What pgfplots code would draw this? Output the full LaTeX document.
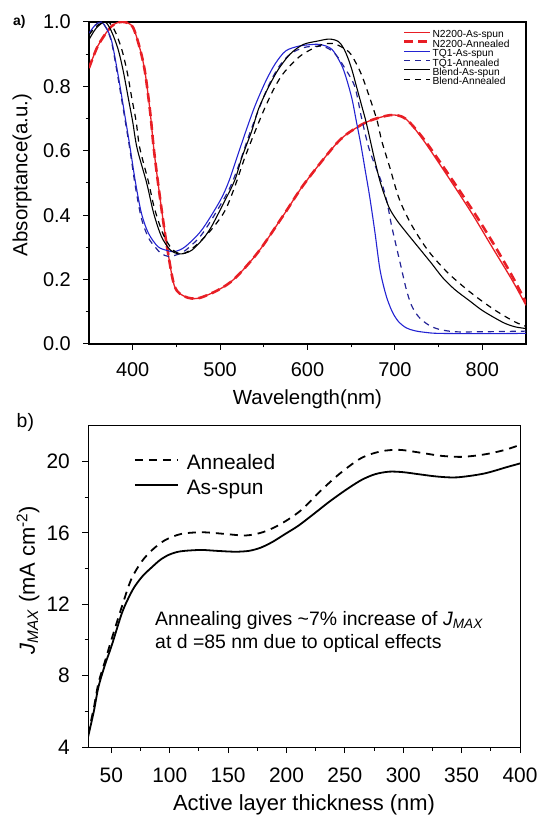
\documentclass[border=0pt]{standalone}
\usepackage{pgfplots}
\pgfplotsset{compat=1.18}
\usepackage{fontspec}
\setmainfont{Liberation Sans}
\definecolor{cred}{RGB}{232,30,37}
\definecolor{cblue}{RGB}{35,35,210}
\definecolor{cnavy}{RGB}{35,35,150}
\pgfplotsset{/pgf/number format/assume math mode=true}
\begin{document}
\begin{tikzpicture}
\useasboundingbox (0bp,0bp) rectangle (540bp,816bp);
\begin{axis}[
  at={(89bp,472bp)}, anchor=south west, scale only axis, width=437bp, height=322bp,
  xmin=350, xmax=850, ymin=0, ymax=1,
  xtick={400,500,600,700,800}, ytick={0,0.2,0.4,0.6,0.8,1.0},
  minor x tick num=1, minor y tick num=1,
  tick align=outside, tick pos=left,
  major tick length=6bp, minor tick length=3.5bp,
  axis line style={line width=1.3bp}, every tick/.style={line width=1bp, black},
  ticklabel style={font=\fontsize{20}{24}\selectfont, inner sep=0pt},
  yticklabel style={/pgf/number format/fixed, /pgf/number format/fixed zerofill, /pgf/number format/precision=1},
  xticklabel style={anchor=base, yshift=-26.7bp},
  yticklabel style={anchor=east, xshift=-12bp},
  xlabel={Wavelength(nm)}, ylabel={Absorptance(a.u.)},
  every axis x label/.style={at={(axis description cs:0.5,-0.188)}, anchor=base, font=\fontsize{20.5}{24}\selectfont},
  every axis y label/.style={at={(axis description cs:-0.153,0.525)}, anchor=center, rotate=90, font=\fontsize{20.5}{24}\selectfont},
  legend style={at={(rel axis cs:0.718,0.977)}, anchor=north west, draw=none, fill=none,
    font=\fontsize{10.3}{10}\selectfont, inner sep=0pt, row sep=0pt,
    nodes={inner sep=0pt, text height=8.3bp, text depth=1.1bp},
    /tikz/every odd column/.append style={column sep=1bp}},
  legend cell align=left,
  legend image code/.code={\draw[#1] (0bp,2bp) -- (26bp,2bp);},
]
\addplot[cred, line width=1.3bp, smooth] coordinates {
(350,0.857) (360,0.925) (372,0.975) (380,0.995) (390,1.0) (400,0.985) (408,0.92) (414,0.846)
(420,0.72) (424,0.61) (429,0.50) (435,0.38) (440,0.29) (448,0.178) (460,0.147) (475,0.142)
(498,0.168) (517,0.204) (544,0.287) (574,0.406) (597,0.50) (635,0.628) (658,0.675) (674,0.696)
(696,0.711) (712,0.70) (731,0.639) (757,0.535) (788,0.406) (811,0.302) (834,0.199) (850,0.12)};
\addlegendentry{N2200-As-spun}
\addplot[cred, line width=2.6bp, dash pattern=on 9bp off 5bp, smooth] coordinates {
(350,0.857) (360,0.925) (372,0.975) (380,0.995) (390,1.0) (400,0.985) (408,0.92) (414,0.846)
(420,0.72) (424,0.61) (429,0.50) (435,0.38) (440,0.29) (448,0.178) (460,0.147) (475,0.142)
(498,0.168) (517,0.204) (544,0.287) (574,0.406) (597,0.50) (635,0.628) (658,0.675) (674,0.696)
(696,0.711) (712,0.70) (732,0.64) (758,0.54) (789,0.415) (812,0.315) (835,0.207) (850,0.128)};
\addlegendentry{N2200-Annealed}
\addplot[cblue, line width=1.1bp, smooth] coordinates {
(350,0.965) (357,0.99) (364,1.0) (370,0.98) (376,0.94) (383,0.84) (391,0.71) (397,0.61)
(403,0.505) (410,0.406) (418,0.344) (429,0.302) (440,0.29) (448,0.287) (460,0.302) (479,0.354)
(500,0.445) (510,0.505) (520,0.585) (530,0.665) (540,0.74) (552,0.815) (563,0.87) (575,0.91)
(590,0.925) (605,0.93) (615,0.93) (628,0.915) (639,0.866) (645,0.82) (651,0.76) (656,0.69)
(661,0.62) (666,0.54) (671,0.46) (677,0.35) (683,0.23) (690,0.15) (697,0.10) (704,0.07)
(713,0.05) (723,0.041) (735,0.036) (750,0.033) (800,0.032) (850,0.033)};
\addlegendentry{TQ1-As-spun}
\addplot[cnavy, line width=1.2bp, dash pattern=on 6bp off 5bp, smooth] coordinates {
(350,0.96) (357,0.99) (364,1.0) (370,0.98) (376,0.935) (383,0.83) (391,0.70) (397,0.60)
(403,0.49) (410,0.39) (418,0.33) (426,0.30) (433,0.28) (441,0.272) (448,0.275) (460,0.29)
(479,0.34) (500,0.43) (512,0.49) (522,0.56) (532,0.64) (543,0.72) (555,0.80) (567,0.86)
(580,0.90) (595,0.92) (610,0.925) (622,0.92) (632,0.90) (642,0.86) (654,0.80) (662,0.70)
(670,0.61) (678,0.55) (685,0.50) (691,0.44) (696,0.37) (701,0.31) (707,0.24) (713,0.17)
(719,0.12) (727,0.085) (738,0.06) (750,0.046) (769,0.038) (800,0.038) (850,0.04)};
\addlegendentry{TQ1-Annealed}
\addplot[black, line width=1.1bp, smooth] coordinates {
(350,0.945) (358,0.98) (368,1.0) (375,0.975) (383,0.918) (389,0.85) (395,0.763) (400,0.69)
(405,0.608) (416,0.50) (424,0.406) (433,0.333) (443,0.292) (452,0.28) (460,0.282) (468,0.292)
(480,0.325) (490,0.364) (506,0.448) (517,0.51) (525,0.58) (536,0.66) (544,0.73) (554,0.79)
(566,0.85) (580,0.90) (595,0.93) (612,0.941) (625,0.947) (635,0.94) (641,0.92) (646,0.89)
(651,0.85) (656,0.80) (662,0.74) (667,0.69) (672,0.63) (677,0.57) (683,0.505) (689,0.455)
(694,0.42) (702,0.385) (712,0.35) (727,0.30) (742,0.25) (755,0.205) (769,0.168) (785,0.135)
(799,0.106) (813,0.083) (826,0.064) (838,0.053) (850,0.048)};
\addlegendentry{Blend-As-spun}
\addplot[black, line width=1.2bp, dash pattern=on 6bp off 5bp, smooth] coordinates {
(350,0.96) (360,0.99) (372,1.0) (380,0.97) (388,0.91) (394,0.84) (399,0.763) (404,0.69)
(408,0.61) (418,0.504) (425,0.42) (435,0.34) (445,0.295) (455,0.28) (465,0.29) (479,0.323)
(493,0.365) (506,0.416) (517,0.49) (528,0.577) (540,0.66) (551,0.732) (563,0.80) (574,0.846)
(593,0.897) (616,0.929) (631,0.932) (647,0.908) (655,0.875) (662,0.835) (668,0.79) (674,0.742)
(680,0.69) (685,0.63) (694,0.55) (705,0.45) (719,0.37) (738,0.29) (761,0.22) (788,0.157)
(814,0.106) (837,0.069) (850,0.055)};
\addlegendentry{Blend-Annealed}
\end{axis}

\begin{axis}[
  at={(88bp,69bp)}, anchor=south west, scale only axis, width=432bp, height=321bp,
  xmin=30, xmax=400, ymin=4, ymax=22,
  xtick={50,100,...,400}, ytick={4,8,12,16,20},
  minor x tick num=1, minor y tick num=1,
  tick align=outside, tick pos=left,
  major tick length=6bp, minor tick length=3.5bp,
  axis line style={line width=1bp}, every tick/.style={line width=1bp, black},
  ticklabel style={font=\fontsize{21}{24}\selectfont, inner sep=0pt},
  xticklabel style={anchor=base, yshift=-29bp},
  yticklabel style={anchor=east, xshift=-12bp},
  xlabel={Active layer thickness (nm)},
  ylabel={\textit{J}\textsubscript{\textit{MAX}} (mA cm\textsuperscript{-2})},
  every axis x label/.style={at={(axis description cs:0.5,-0.199)}, anchor=base, font=\fontsize{22}{26}\selectfont},
  every axis y label/.style={at={(axis description cs:-0.139,0.52)}, anchor=center, rotate=90, font=\fontsize{22}{26}\selectfont},
  legend style={at={(rel axis cs:0.106,0.92)}, anchor=north west, draw=none, fill=none,
    font=\fontsize{21}{21}\selectfont, inner sep=0pt, row sep=0pt,
    nodes={inner sep=0pt, text height=17.5bp, text depth=7.5bp},
    /tikz/every odd column/.append style={column sep=8bp}},
  legend cell align=left,
  legend image code/.code={\draw[#1] (0bp,4bp) -- (43bp,4bp);},
]
\addplot[black, line width=1.8bp, dash pattern=on 8bp off 6bp, smooth] coordinates {
(30,4.7) (35,6.2) (39,7.6) (45,8.9) (50,10.0) (59,11.87) (67,13.4) (76,14.4) (85,15.05)
(96,15.6) (110,15.95) (128,16.04) (147,15.95) (165,15.86) (180,16.05) (195,16.5) (212,17.25)
(229,18.35) (246,19.35) (264,20.2) (281,20.58) (297,20.66) (315,20.5) (332,20.33) (350,20.27)
(369,20.4) (386,20.64) (400,20.94)};
\addlegendentry{Annealed}
\addplot[black, line width=1.8bp, smooth] coordinates {
(30,4.55) (35,6.0) (39,7.38) (45,8.7) (50,9.63) (59,11.5) (65,12.4) (70,13.0) (77,13.6)
(85,14.1) (92,14.5) (99,14.77) (106,14.93) (113,15.0) (127,15.05) (140,15.0) (156,14.95)
(168,15.0) (178,15.18) (188,15.5) (199,15.95) (210,16.4) (223,17.05) (235,17.67)
(245,18.15) (255,18.6) (265,19.0) (276,19.3) (288,19.44) (300,19.41) (315,19.28) (330,19.16)
(346,19.12) (369,19.33) (389,19.7) (400,19.9)};
\addlegendentry{As-spun}
\node[anchor=base west, inner sep=0pt, font=\fontsize{19.5}{23}\selectfont] at (axis cs:87.4,10.84)
  {Annealing gives \textasciitilde7\% increase of \textit{J}\textsubscript{\textit{MAX}}};
\node[anchor=base west, inner sep=0pt, font=\fontsize{19.5}{23}\selectfont] at (axis cs:87.4,9.55)
  {at d =85 nm due to optical effects};
\end{axis}

\node[anchor=base west, inner sep=0pt, font=\bfseries\fontsize{14}{16}\selectfont] at (13bp,790.8bp) {a)};
\node[anchor=base west, inner sep=0pt, font=\fontsize{19.5}{22}\selectfont] at (16.5bp,388.5bp) {b)};
\end{tikzpicture}
\end{document}
